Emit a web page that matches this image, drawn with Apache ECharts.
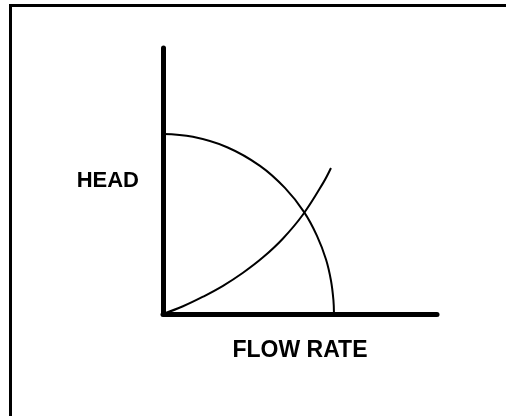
<!DOCTYPE html>
<html>
<head>
<meta charset="utf-8">
<script src="https://cdn.jsdelivr.net/npm/echarts@6/dist/echarts.min.js"></script>
<style>
  html, body { margin: 0; padding: 0; background: #fff; }
  #frame {
    position: absolute; left: 9px; top: 4px; right: 0; bottom: 0;
    border-left: 3px solid #000; border-top: 3px solid #000;
  }
  #main { position: absolute; left: 0; top: 0; width: 506px; height: 416px; }
</style>
</head>
<body>
<div id="frame"></div>
<div id="main"></div>
<script>
// pump curve (head falls as flow rises)
var pumpFlow = [0, 10.9, 23.4, 35.4, 44.5, 51.5, 56.2, 59.5, 61.3, 62.2, 62.4];
var pumpHead = [67.7, 66.6, 62.7, 55.7, 47.4, 38.3, 29.4, 20.5, 12.6, 5.2, 0];

// system curve (head rises with flow)
var sysFlow = [0, 7.3, 14.6, 21.9, 29.2, 36.5, 43.8, 51.1, 58.4, 61.3];
var sysHead = [0, 2.9, 6.5, 10.6, 15.5, 21.3, 28.4, 37.4, 49.2, 54.9];

var xName = 'FLOW RATE';
var yName = 'HEAD';

function pairs(xs, ys) {
    return xs.map(function (x, i) { return [x, ys[i]]; });
}

var myChart = echarts.init(document.getElementById('main'), null, {renderer: 'canvas'});

var lineCurve = {color: '#000', width: 2};
var nameFont = {
    color: '#000',
    fontFamily: '"Liberation Sans", Arial, sans-serif',
    fontWeight: 'bold',
    fontSize: 22
};

option = {
    animation: false,
    grid: {left: 163, top: 48, width: 274, height: 266},
    xAxis: {
        type: 'value',
        min: 0,
        max: 100,
        name: xName,
        nameLocation: 'middle',
        nameGap: 25,
        nameTextStyle: Object.assign({}, nameFont, {fontSize: 23}),
        axisLine: {lineStyle: {color: '#000', width: 5}},
        axisTick: {show: false},
        axisLabel: {show: false},
        splitLine: {show: false}
    },
    yAxis: {
        type: 'value',
        min: 0,
        max: 100,
        name: yName,
        nameLocation: 'middle',
        nameRotate: 0,
        nameGap: 24,
        nameTextStyle: Object.assign({padding: [0, 0, 12, 0]}, nameFont),
        axisLine: {show: true, lineStyle: {color: '#000', width: 5}},
        axisTick: {show: false},
        axisLabel: {show: false},
        splitLine: {show: false}
    },
    series: [
        {
            type: 'line',
            data: pairs(pumpFlow, pumpHead),
            smooth: 0.4,
            showSymbol: false,
            lineStyle: lineCurve
        },
        {
            type: 'line',
            data: pairs(sysFlow, sysHead),
            smooth: 0.4,
            showSymbol: false,
            lineStyle: lineCurve
        }
    ]
};
myChart.setOption(option);
</script>
</body>
</html>
